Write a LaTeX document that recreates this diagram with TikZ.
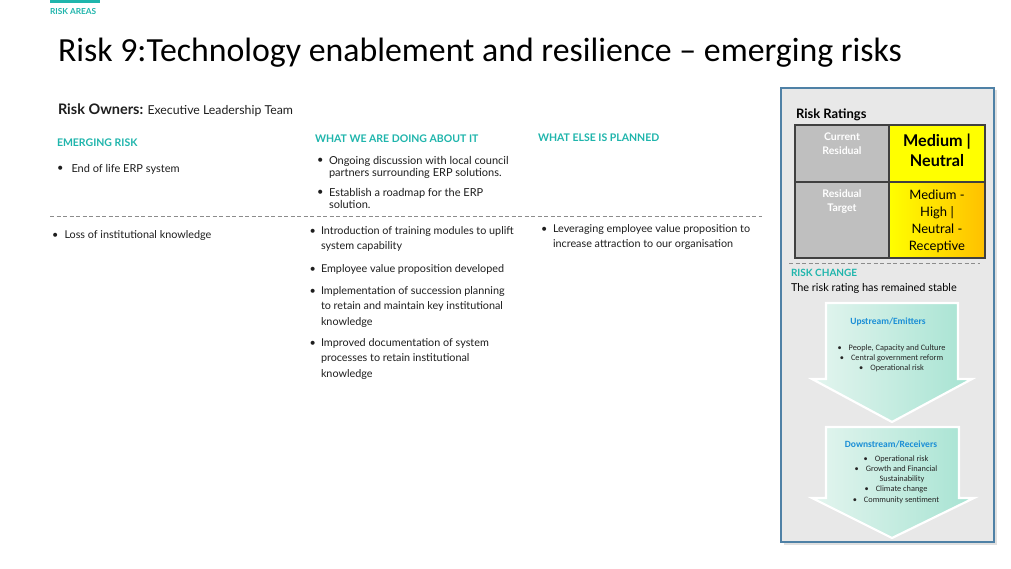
\documentclass[tikz,border=0pt]{standalone}
\usepackage{fontspec}
\setmainfont{Lato}
\newfontfamily\titlefont{Carlito}
\definecolor{tealc}{HTML}{1FB5AC}
\definecolor{panelgray}{HTML}{E8E8E8}
\definecolor{panelborder}{HTML}{4F81A6}
\definecolor{cellgray}{HTML}{BFBFBF}
\definecolor{gridc}{HTML}{404040}
\definecolor{yel}{HTML}{FFFF00}
\definecolor{orng}{HTML}{FFC000}
\definecolor{mintA}{HTML}{E4F5EF}
\definecolor{mintB}{HTML}{A6E3D2}
\definecolor{blueh}{HTML}{1B8FD6}
\definecolor{dashc}{HTML}{8C8C8C}
\definecolor{textc}{HTML}{1E1E1E}
\tikzset{
  txt/.style={inner sep=0pt, outer sep=0pt, text=textc},
  hdr/.style={txt, text=tealc, font=\bfseries\fontsize{10.5}{11}\selectfont, anchor=base west},
  bodyA/.style={txt, font=\fontsize{11}{11}\selectfont, align=left, anchor=north west},
  bodyB/.style={txt, font=\fontsize{10.8}{15.5}\selectfont, align=left, anchor=north west},
  dashline/.style={draw=dashc, line width=0.8pt, dash pattern=on 4pt off 2.5pt},
  flowarrow/.style={draw=white, line width=2.2pt, line join=miter, left color=mintA, right color=mintB},
  arrowhead/.style={txt, text=blueh, font=\titlefont\bfseries\fontsize{9.5}{10}\selectfont},
  arrowlist/.style={txt, text=black!85, font=\titlefont\fontsize{8.3}{10.2}\selectfont, align=center},
  lcell/.style={txt, text=white, font=\bfseries\fontsize{10.5}{14}\selectfont, align=center, anchor=north},
}
\begin{document}
\begin{tikzpicture}[x=1pt,y=-1pt]
\useasboundingbox (0,0) rectangle (1011,569);
\fill[white] (0,0) rectangle (1011,569);
% top bar and section label
\fill[tealc] (50,0) rectangle (100,3);
\node[txt, text=tealc, font=\bfseries\fontsize{8.3}{9}\selectfont, anchor=base west] (area) at (50,14.5) {RISK AREAS};
% title
\node[txt, text=black, font=\titlefont\fontsize{33.8}{34}\selectfont, anchor=base west] (title) at (58,61.5)
  {Risk 9:Technology enablement and resilience – emerging risks};
% owners
\node[txt, font=\fontsize{12.3}{13}\selectfont, anchor=base west] (owners) at (58,115)
  {{\bfseries\fontsize{14.5}{14}\selectfont Risk Owners:} Executive Leadership Team};
% headers
\node[hdr] (h1) at (57,146.5) {EMERGING RISK};
\node[hdr] (h2) at (315,142.5) {WHAT WE ARE DOING ABOUT IT};
\node[hdr] (h3) at (538,141.5) {WHAT ELSE IS PLANNED};
% first row
\node[bodyA] (b1) at (57,164) {\strut•};
\node[bodyA] (t1) at (71.5,164) {\strut End of life ERP system};
\node[bodyA] (b2) at (317,156) {\strut•};
\node[bodyA] (t2) at (329,156) {\strut Ongoing discussion with local council\\partners surrounding ERP solutions.};
\node[bodyA] (b3) at (317,188) {\strut•};
\node[bodyA] (t3) at (329,188) {\strut Establish a roadmap for the ERP\\solution.};
% divider
\draw[dashline] (50,216) -- (762,216);
% second row
\node[bodyB] (b4) at (52,227.6) {\strut•};
\node[bodyB] (t4) at (64.5,227.6) {\strut Loss of institutional knowledge};
\node[bodyB] (b5) at (309.5,223.6) {\strut•};
\node[bodyB] (t5) at (321,223.6) {\strut Introduction of training modules to uplift\\system capability};
\node[bodyB] (b6) at (309.5,261.6) {\strut•};
\node[bodyB] (t6) at (321,261.6) {\strut Employee value proposition developed};
\node[bodyB] (b7) at (309.5,283.6) {\strut•};
\node[bodyB] (t7) at (321,283.6) {\strut Implementation of succession planning\\to retain and maintain key institutional\\knowledge};
\node[bodyB] (b8) at (309.5,335.6) {\strut•};
\node[bodyB] (t8) at (321,335.6) {\strut Improved documentation of system\\processes to retain institutional\\knowledge};
\node[bodyB] (b9) at (541,221.6) {\strut•};
\node[bodyB] (t9) at (553,221.6) {\strut Leveraging employee value proposition to\\increase attraction to our organisation};
% right panel
\fill[black!12] (783.5,90.5) rectangle (996.5,544.5);
\draw[panelborder, line width=1.3pt, fill=panelgray] (781,88) rectangle (994,542);
\node[txt, text=black, font=\bfseries\fontsize{13}{13}\selectfont, anchor=base west] (rr) at (796,118.5) {Risk Ratings};
% table
\fill[cellgray] (795,125) rectangle (889,258);
\fill[yel] (889,125) rectangle (985,182);
\shade[left color=yel, right color=orng] (889,182) rectangle (985,258);
\draw[gridc, line width=1.4pt] (795,125) rectangle (985,258);
\draw[gridc, line width=1.4pt] (889,125) -- (889,258);
\draw[gridc, line width=1.4pt] (795,182) -- (985,182);
\node[lcell] (cur) at (842,132.5) {Current\\Residual};
\node[lcell] (tgt) at (842,189.5) {Residual\\Target};
\node[txt, text=black, font=\bfseries\fontsize{16.2}{20}\selectfont, align=center] (curv) at (937,150.5) {Medium |\\Neutral};
\node[txt, text=black, font=\fontsize{13}{17}\selectfont, align=center] (tgtv) at (937,221) {Medium -\\High |\\Neutral -\\Receptive};
\draw[dashline] (789,263.5) -- (980,263.5);
\node[hdr, font=\bfseries\fontsize{10}{10}\selectfont] (rc) at (791,276.8) {RISK CHANGE};
\node[txt, text=black, font=\fontsize{10.9}{12}\selectfont, anchor=base west] (rcs) at (791,291) {The risk rating has remained stable};
% arrows
\path[flowarrow] (826,303) -- (958,303) -- (958,379) -- (972,379) -- (892,422) -- (812,379) -- (826,379) -- cycle;
\path[flowarrow] (826,427) -- (959,427) -- (959,498) -- (974,498) -- (892,538) -- (812,498) -- (826,498) -- cycle;
\node[arrowhead] (up) at (888,322) {Upstream/Emitters};
\node[arrowlist] (upl) at (891.5,358) {•\hspace{7pt}People, Capacity and Culture\\•\hspace{7pt}Central government reform\\•\hspace{7pt}Operational risk};
\node[arrowhead] (down) at (891,444) {Downstream/Receivers};
\node[arrowlist] (downl) at (896,479.5) {•\hspace{7pt}Operational risk\\•\hspace{7pt}Growth and Financial\\\hspace{12pt}Sustainability\\•\hspace{7pt}Climate change\\•\hspace{7pt}Community sentiment};
\end{tikzpicture}
\end{document}
